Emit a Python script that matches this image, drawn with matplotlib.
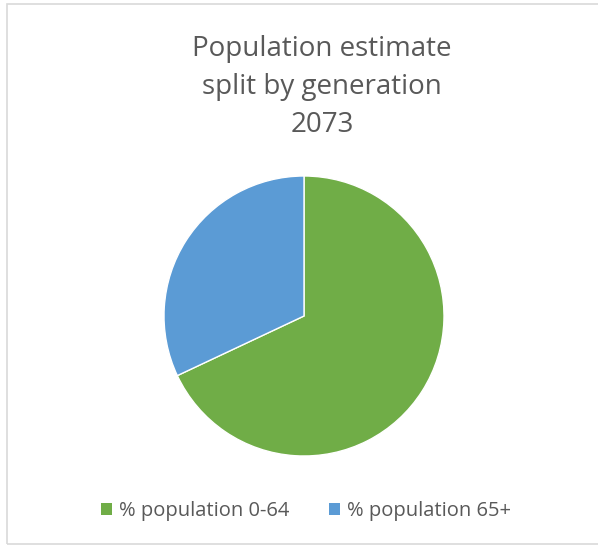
import matplotlib.pyplot as plt
from matplotlib.patches import Rectangle, Patch

labels = ['% population 0-64', '% population 65+']
shares = [68, 32]
colors = ['#70AD47', '#5B9BD5']
title = 'Population estimate\nsplit by generation\n2073'

W, H = 598, 550
fig = plt.figure(figsize=(W / 100, H / 100), dpi=100)

# chart area border (right edge runs off the image)
fig.patches.append(Rectangle((7 / W, (H - 544) / H), 1.0, (544 - 4) / H,
                             transform=fig.transFigure, fill=False,
                             edgecolor='#D9D9D9', linewidth=1.2))

cx, cy, r = 304, 316, 140
ax = fig.add_axes([(cx - r) / W, (H - cy - r) / H, 2 * r / W, 2 * r / H])
ax.pie(shares, colors=colors, startangle=90, counterclock=False,
       wedgeprops=dict(edgecolor='white', linewidth=1))
ax.set_xlim(-1, 1)
ax.set_ylim(-1, 1)
ax.set_aspect('equal')
ax.axis('off')

fig.text(322 / W, 1 - 87 / H, title, ha='center', va='center',
         fontsize=20, color='#595959', family='Open Sans', linespacing=1.46)

handles = [Patch(facecolor=c, label=l) for c, l in zip(colors, labels)]
fig.legend(handles=handles, loc='center', bbox_to_anchor=(306 / W, 1 - 511 / H),
           ncol=2, frameon=False, labelcolor='#595959',
           prop={'family': 'Open Sans', 'size': 14.5},
           handlelength=0.55, handleheight=0.55, handletextpad=0.35,
           columnspacing=2.0)

fig.savefig('out.png', dpi=100)
